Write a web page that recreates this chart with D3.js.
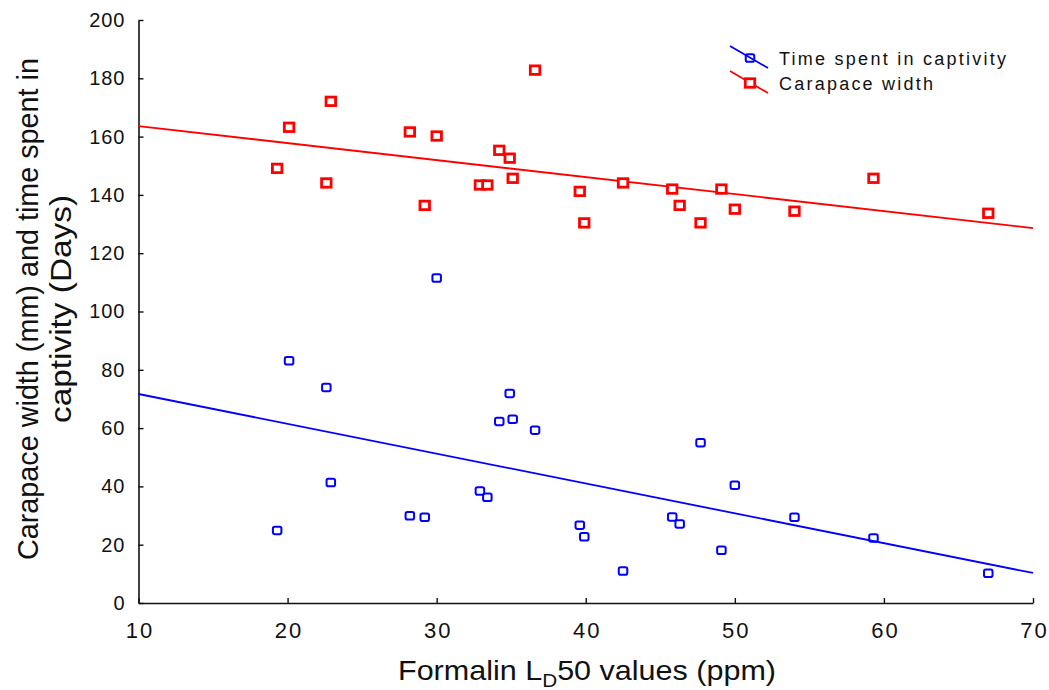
<!DOCTYPE html>
<html>
<head>
<meta charset="utf-8">
<script src="https://cdn.jsdelivr.net/npm/d3@7"></script>
<style>
  html, body { margin: 0; padding: 0; background: #fff; }
  svg { display: block; font-family: "Liberation Sans", Arial, sans-serif; }
</style>
</head>
<body>
<svg id="chart" width="1049" height="690"></svg>
<script>
// Formalin LD50 (ppm) for each animal
const ld50 = [19.3, 20.1, 22.6, 22.9, 28.2, 29.2, 30.0, 32.9, 33.4, 34.2, 34.9, 35.1,
              36.6, 39.6, 39.9, 42.5, 45.8, 46.3, 47.7, 49.1, 50.0, 54.0, 59.3, 67.0];
// Carapace width (mm)
const carapaceWidth = [149.1, 163.2, 144.1, 172.1, 161.6, 136.4, 160.2, 143.4, 143.4, 155.3, 152.6, 145.7,
                       182.8, 141.2, 130.4, 144.1, 142.0, 136.4, 130.4, 142.0, 135.1, 134.4, 145.7, 133.7];
// Time spent in captivity (days)
const captivityDays = [24.9, 83.1, 73.9, 41.3, 29.9, 29.4, 111.5, 38.4, 36.3, 62.3, 71.9, 63.0,
                       59.3, 26.7, 22.7, 11.0, 29.5, 27.1, 55.0, 18.1, 40.4, 29.4, 22.3, 10.2];
// Linear fits, value at LD50 = 10 and LD50 = 70
const fitX = [10, 70];
const carapaceFit = [163.6, 128.6];
const captivityFit = [71.7, 10.3];

const seriesNames = ["Time spent in captivity", "Carapace width"];
const xTicks = [10, 20, 30, 40, 50, 60, 70];
const yTicks = [0, 20, 40, 60, 80, 100, 120, 140, 160, 180, 200];

const svg = d3.select("#chart");
const x = d3.scaleLinear().domain([10, 70]).range([138.5, 1033]);
const y = d3.scaleLinear().domain([0, 200]).range([603, 20]);

const BLUE = "#0000ff", RED = "#ff0000", INK = "#111";

// Axes: ticks point inward, minor ticks between labelled ones
const gx = svg.append("g").attr("transform", `translate(0,${y(0)})`);
gx.call(d3.axisBottom(x).tickValues(d3.range(10, 70.01, 2)).tickSize(-2.5).tickSizeOuter(0).tickFormat(""));
gx.call(d3.axisBottom(x).tickValues(xTicks).tickSize(-5).tickSizeOuter(0).tickPadding(19));
const gy = svg.append("g").attr("transform", `translate(${x(10)},0)`);
gy.call(d3.axisLeft(y).tickValues(d3.range(0, 200.01, 5)).tickSize(-2.5).tickSizeOuter(0).tickFormat(""));
gy.call(d3.axisLeft(y).tickValues(yTicks).tickSize(-5).tickSizeOuter(0).tickPadding(13));

svg.selectAll(".domain").attr("stroke", INK).attr("stroke-width", 1.6);
svg.selectAll(".tick line").attr("stroke", INK).attr("stroke-width", 1.4);
gx.selectAll(".tick text").attr("font-size", 22).attr("fill", INK)
  .style("letter-spacing", "2px").attr("dx", 1);
gy.selectAll(".tick text").attr("font-size", 20).attr("fill", INK)
  .style("letter-spacing", "1px");

// Axis titles
const xt = svg.append("text").attr("x", 587).attr("y", 680).attr("text-anchor", "middle")
  .attr("font-size", 28).attr("fill", INK)
  .attr("textLength", 378).attr("lengthAdjust", "spacingAndGlyphs");
xt.append("tspan").text("Formalin L");
xt.append("tspan").attr("font-size", 19).attr("dy", 7).text("D");
xt.append("tspan").attr("dy", -7).text("50 values (ppm)");

const yt = svg.append("text").attr("transform", "translate(0,309) rotate(-90)")
  .attr("text-anchor", "middle").attr("font-size", 30).attr("fill", INK);
yt.append("tspan").attr("x", 0).attr("y", 38)
  .attr("textLength", 502).attr("lengthAdjust", "spacingAndGlyphs")
  .text("Carapace width (mm) and time spent in");
yt.append("tspan").attr("x", 0).attr("y", 71)
  .attr("textLength", 228).attr("lengthAdjust", "spacingAndGlyphs")
  .text("captivity (Days)");

// Fit lines
const line = d3.line().x(d => x(d[0])).y(d => y(d[1]));
svg.append("path").datum(d3.zip(fitX, carapaceFit)).attr("d", line)
  .attr("fill", "none").attr("stroke", RED).attr("stroke-width", 1.8);
svg.append("path").datum(d3.zip(fitX, captivityFit)).attr("d", line)
  .attr("fill", "none").attr("stroke", BLUE).attr("stroke-width", 1.8);

// Markers
const RW = 9.5, RH = 8.5, BW = 8.5, BH = 7.5;
function redMark(sel) {
  sel.attr("width", RW).attr("height", RH)
    .attr("fill", "#fff").attr("stroke", RED).attr("stroke-width", 2.8);
}
function blueMark(sel) {
  sel.attr("width", BW).attr("height", BH).attr("rx", 1.8)
    .attr("fill", "none").attr("stroke", BLUE).attr("stroke-width", 2);
}
svg.append("g").selectAll("rect").data(d3.zip(ld50, carapaceWidth)).join("rect")
  .attr("x", d => x(d[0]) - RW / 2).attr("y", d => y(d[1]) - RH / 2).call(redMark);
svg.append("g").selectAll("rect").data(d3.zip(ld50, captivityDays)).join("rect")
  .attr("x", d => x(d[0]) - BW / 2).attr("y", d => y(d[1]) - BH / 2).call(blueMark);

// Legend
const legend = svg.append("g");
const legendRows = [
  { name: seriesNames[0], color: BLUE, mark: blueMark, w: BW, h: BH, cy: 58, len: 227 },
  { name: seriesNames[1], color: RED, mark: redMark, w: RW, h: RH, cy: 83, len: 154 }
];
legendRows.forEach(r => {
  legend.append("line").attr("x1", 730).attr("y1", r.cy - 12).attr("x2", 768).attr("y2", r.cy + 10)
    .attr("stroke", r.color).attr("stroke-width", 1.8);
  legend.append("rect").attr("x", 750 - r.w / 2).attr("y", r.cy - r.h / 2).call(r.mark);
  legend.append("text").attr("x", 779).attr("y", r.cy + 7).attr("font-size", 18).attr("fill", INK)
    .attr("textLength", r.len).attr("lengthAdjust", "spacing")
    .text(r.name);
});
</script>
</body>
</html>
